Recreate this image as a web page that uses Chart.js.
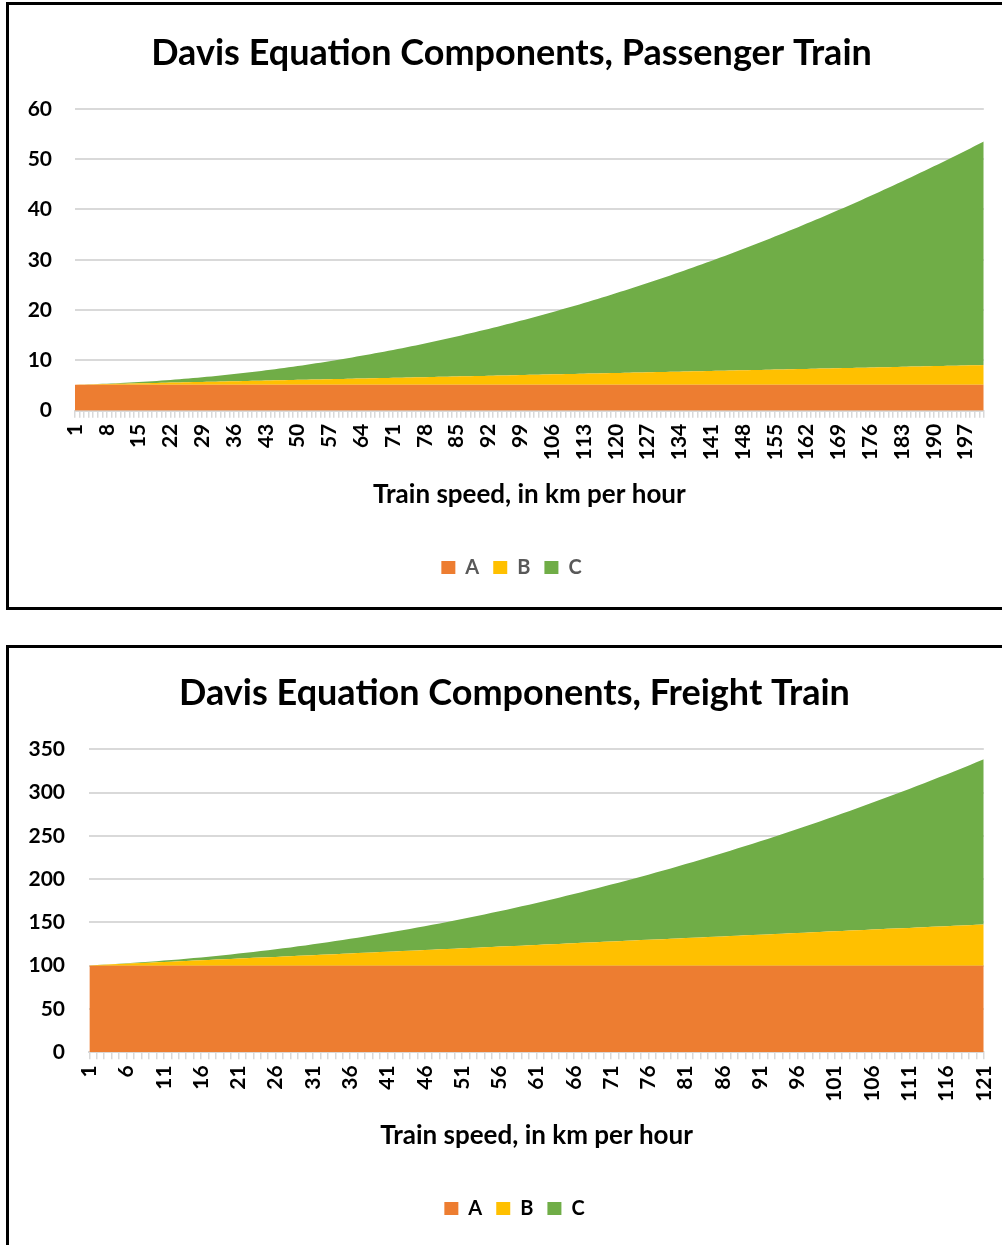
<!DOCTYPE html>
<html>
<head>
<meta charset="utf-8">
<title>Davis Equation Components</title>
<script src="https://cdn.jsdelivr.net/npm/chart.js@4.4.1/dist/chart.umd.min.js"></script>
<style>
  html, body { margin: 0; padding: 0; background: #fff; overflow: hidden; width: 1002px; height: 1245px; }
  canvas { position: absolute; left: 0; }
  .frame { position: absolute; border: 3px solid #000; box-sizing: border-box; pointer-events: none; }
</style>
</head>
<body>
<canvas id="passengerChart" width="1015" height="602" style="top:5px"></canvas>
<canvas id="freightChart" width="1015" height="596" style="top:649px"></canvas>
<div class="frame" style="left:6px; top:2px; width:1030px; height:608px"></div>
<div class="frame" style="left:6px; top:645px; width:1030px; height:620px"></div>
<script>
// ---------- Passenger train: speed (km/h) and the three Davis terms ----------
const passengerSpeeds = [
  1,2,3,4,5,6,7,8,9,10,11,12,13,14,15,16,17,18,19,20,
  21,22,23,24,25,26,27,28,29,30,31,32,33,34,35,36,37,38,39,40,
  41,42,43,44,45,46,47,48,49,50,51,52,53,54,55,56,57,58,59,60,
  61,62,63,64,65,66,67,68,69,70,71,72,73,74,75,76,77,78,79,80,
  81,82,83,84,85,86,87,88,89,90,91,92,93,94,95,96,97,98,99,100,
  101,102,103,104,105,106,107,108,109,110,111,112,113,114,115,116,117,118,119,120,
  121,122,123,124,125,126,127,128,129,130,131,132,133,134,135,136,137,138,139,140,
  141,142,143,144,145,146,147,148,149,150,151,152,153,154,155,156,157,158,159,160,
  161,162,163,164,165,166,167,168,169,170,171,172,173,174,175,176,177,178,179,180,
  181,182,183,184,185,186,187,188,189,190,191,192,193,194,195,196,197,198,199,200,
  201
];
const passengerTickLabels = [1,8,15,22,29,36,43,50,57,64,71,78,85,92,99,106,113,120,127,134,141,148,155,162,169,176,183,190,197];
const passengerA = [
  5.15,5.15,5.15,5.15,5.15,5.15,5.15,5.15,5.15,5.15,5.15,5.15,5.15,5.15,5.15,5.15,5.15,5.15,5.15,5.15,
  5.15,5.15,5.15,5.15,5.15,5.15,5.15,5.15,5.15,5.15,5.15,5.15,5.15,5.15,5.15,5.15,5.15,5.15,5.15,5.15,
  5.15,5.15,5.15,5.15,5.15,5.15,5.15,5.15,5.15,5.15,5.15,5.15,5.15,5.15,5.15,5.15,5.15,5.15,5.15,5.15,
  5.15,5.15,5.15,5.15,5.15,5.15,5.15,5.15,5.15,5.15,5.15,5.15,5.15,5.15,5.15,5.15,5.15,5.15,5.15,5.15,
  5.15,5.15,5.15,5.15,5.15,5.15,5.15,5.15,5.15,5.15,5.15,5.15,5.15,5.15,5.15,5.15,5.15,5.15,5.15,5.15,
  5.15,5.15,5.15,5.15,5.15,5.15,5.15,5.15,5.15,5.15,5.15,5.15,5.15,5.15,5.15,5.15,5.15,5.15,5.15,5.15,
  5.15,5.15,5.15,5.15,5.15,5.15,5.15,5.15,5.15,5.15,5.15,5.15,5.15,5.15,5.15,5.15,5.15,5.15,5.15,5.15,
  5.15,5.15,5.15,5.15,5.15,5.15,5.15,5.15,5.15,5.15,5.15,5.15,5.15,5.15,5.15,5.15,5.15,5.15,5.15,5.15,
  5.15,5.15,5.15,5.15,5.15,5.15,5.15,5.15,5.15,5.15,5.15,5.15,5.15,5.15,5.15,5.15,5.15,5.15,5.15,5.15,
  5.15,5.15,5.15,5.15,5.15,5.15,5.15,5.15,5.15,5.15,5.15,5.15,5.15,5.15,5.15,5.15,5.15,5.15,5.15,5.15,
  5.15
];
const passengerB = [
  0.02,0.04,0.06,0.08,0.10,0.12,0.14,0.16,0.18,0.20,0.21,0.23,0.25,0.27,0.29,0.31,0.33,0.35,0.37,0.39,
  0.41,0.43,0.45,0.47,0.49,0.51,0.53,0.55,0.57,0.59,0.60,0.62,0.64,0.66,0.68,0.70,0.72,0.74,0.76,0.78,
  0.80,0.82,0.84,0.86,0.88,0.90,0.92,0.94,0.96,0.98,0.99,1.01,1.03,1.05,1.07,1.09,1.11,1.13,1.15,1.17,
  1.19,1.21,1.23,1.25,1.27,1.29,1.31,1.33,1.35,1.37,1.38,1.40,1.42,1.44,1.46,1.48,1.50,1.52,1.54,1.56,
  1.58,1.60,1.62,1.64,1.66,1.68,1.70,1.72,1.74,1.76,1.77,1.79,1.81,1.83,1.85,1.87,1.89,1.91,1.93,1.95,
  1.97,1.99,2.01,2.03,2.05,2.07,2.09,2.11,2.13,2.15,2.16,2.18,2.20,2.22,2.24,2.26,2.28,2.30,2.32,2.34,
  2.36,2.38,2.40,2.42,2.44,2.46,2.48,2.50,2.52,2.54,2.55,2.57,2.59,2.61,2.63,2.65,2.67,2.69,2.71,2.73,
  2.75,2.77,2.79,2.81,2.83,2.85,2.87,2.89,2.91,2.93,2.94,2.96,2.98,3.00,3.02,3.04,3.06,3.08,3.10,3.12,
  3.14,3.16,3.18,3.20,3.22,3.24,3.26,3.28,3.30,3.32,3.33,3.35,3.37,3.39,3.41,3.43,3.45,3.47,3.49,3.51,
  3.53,3.55,3.57,3.59,3.61,3.63,3.65,3.67,3.69,3.71,3.72,3.74,3.76,3.78,3.80,3.82,3.84,3.86,3.88,3.90,
  3.92
];
const passengerC = [
  0.00,0.00,0.01,0.02,0.03,0.04,0.05,0.07,0.09,0.11,0.13,0.16,0.19,0.22,0.25,0.28,0.32,0.36,0.40,0.44,
  0.49,0.53,0.58,0.63,0.69,0.74,0.80,0.86,0.93,0.99,1.06,1.13,1.20,1.27,1.35,1.43,1.51,1.59,1.67,1.76,
  1.85,1.94,2.03,2.13,2.23,2.33,2.43,2.53,2.64,2.75,2.86,2.97,3.09,3.21,3.33,3.45,3.57,3.70,3.83,3.96,
  4.09,4.23,4.37,4.51,4.65,4.79,4.94,5.09,5.24,5.39,5.55,5.70,5.86,6.02,6.19,6.35,6.52,6.69,6.87,7.04,
  7.22,7.40,7.58,7.76,7.95,8.14,8.33,8.52,8.71,8.91,9.11,9.31,9.51,9.72,9.93,10.14,10.35,10.56,10.78,11.00,
  11.22,11.44,11.67,11.90,12.13,12.36,12.59,12.83,13.07,13.31,13.55,13.80,14.05,14.30,14.55,14.80,15.06,15.32,15.58,15.84,
  16.11,16.37,16.64,16.91,17.19,17.46,17.74,18.02,18.31,18.59,18.88,19.17,19.46,19.75,20.05,20.35,20.65,20.95,21.25,21.56,
  21.87,22.18,22.49,22.81,23.13,23.45,23.77,24.09,24.42,24.75,25.08,25.41,25.75,26.09,26.43,26.77,27.11,27.46,27.81,28.16,
  28.51,28.87,29.23,29.59,29.95,30.31,30.68,31.05,31.42,31.79,32.17,32.54,32.92,33.30,33.69,34.07,34.46,34.85,35.25,35.64,
  36.04,36.44,36.84,37.24,37.65,38.06,38.47,38.88,39.29,39.71,40.13,40.55,40.97,41.40,41.83,42.26,42.69,43.12,43.56,44.00,
  44.44
];
const passengerYTicks = [0, 10, 20, 30, 40, 50, 60];

// ---------- Freight train: speed (km/h) and the three Davis terms ----------
const freightSpeeds = [
  1,2,3,4,5,6,7,8,9,10,11,12,13,14,15,16,17,18,19,20,
  21,22,23,24,25,26,27,28,29,30,31,32,33,34,35,36,37,38,39,40,
  41,42,43,44,45,46,47,48,49,50,51,52,53,54,55,56,57,58,59,60,
  61,62,63,64,65,66,67,68,69,70,71,72,73,74,75,76,77,78,79,80,
  81,82,83,84,85,86,87,88,89,90,91,92,93,94,95,96,97,98,99,100,
  101,102,103,104,105,106,107,108,109,110,111,112,113,114,115,116,117,118,119,120,
  121
];
const freightTickLabels = [1,6,11,16,21,26,31,36,41,46,51,56,61,66,71,76,81,86,91,96,101,106,111,116,121];
const freightA = [
  100,100,100,100,100,100,100,100,100,100,100,100,100,100,100,100,100,100,100,100,
  100,100,100,100,100,100,100,100,100,100,100,100,100,100,100,100,100,100,100,100,
  100,100,100,100,100,100,100,100,100,100,100,100,100,100,100,100,100,100,100,100,
  100,100,100,100,100,100,100,100,100,100,100,100,100,100,100,100,100,100,100,100,
  100,100,100,100,100,100,100,100,100,100,100,100,100,100,100,100,100,100,100,100,
  100,100,100,100,100,100,100,100,100,100,100,100,100,100,100,100,100,100,100,100,
  100
];
const freightB = [
  0.4,0.8,1.2,1.6,2.0,2.4,2.8,3.2,3.5,3.9,4.3,4.7,5.1,5.5,5.9,6.3,6.7,7.1,7.5,7.9,
  8.3,8.7,9.1,9.5,9.9,10.2,10.6,11.0,11.4,11.8,12.2,12.6,13.0,13.4,13.8,14.2,14.6,15.0,15.4,15.8,
  16.2,16.5,16.9,17.3,17.7,18.1,18.5,18.9,19.3,19.7,20.1,20.5,20.9,21.3,21.7,22.1,22.5,22.9,23.2,23.6,
  24.0,24.4,24.8,25.2,25.6,26.0,26.4,26.8,27.2,27.6,28.0,28.4,28.8,29.2,29.6,29.9,30.3,30.7,31.1,31.5,
  31.9,32.3,32.7,33.1,33.5,33.9,34.3,34.7,35.1,35.5,35.9,36.2,36.6,37.0,37.4,37.8,38.2,38.6,39.0,39.4,
  39.8,40.2,40.6,41.0,41.4,41.8,42.2,42.6,42.9,43.3,43.7,44.1,44.5,44.9,45.3,45.7,46.1,46.5,46.9,47.3,
  47.7
];
const freightC = [
  0.0,0.1,0.1,0.2,0.3,0.5,0.6,0.8,1.1,1.3,1.6,1.9,2.2,2.6,2.9,3.3,3.8,4.2,4.7,5.2,
  5.7,6.3,6.9,7.5,8.1,8.8,9.5,10.2,11.0,11.7,12.5,13.3,14.2,15.1,16.0,16.9,17.8,18.8,19.8,20.8,
  21.9,23.0,24.1,25.2,26.4,27.6,28.8,30.0,31.3,32.6,33.9,35.2,36.6,38.0,39.4,40.9,42.3,43.8,45.4,46.9,
  48.5,50.1,51.7,53.4,55.1,56.8,58.5,60.3,62.0,63.8,65.7,67.5,69.4,71.4,73.3,75.3,77.3,79.3,81.3,83.4,
  85.5,87.6,89.8,91.9,94.1,96.4,98.6,100.9,103.2,105.5,107.9,110.3,112.7,115.1,117.6,120.1,122.6,125.1,127.7,130.3,
  132.9,135.6,138.2,140.9,143.7,146.4,149.2,152.0,154.8,157.7,160.5,163.4,166.4,169.3,172.3,175.3,178.4,181.4,184.5,187.6,
  190.8
];
const freightYTicks = [0, 50, 100, 150, 200, 250, 300, 350];

// ---------- shared styling ----------
const seriesNames = ['A', 'B', 'C'];
const seriesColors = ['#ED7D31', '#FFC000', '#70AD47'];
Chart.defaults.font.family = "Lato, 'Open Sans', sans-serif";
Chart.defaults.font.weight = 'bold';

function areaDatasets(seriesValues) {
  return seriesValues.map((values, i) => ({
    label: seriesNames[i],
    data: values,
    backgroundColor: seriesColors[i],
    borderColor: 'rgba(0,0,0,0)',
    borderWidth: 0,
    pointRadius: 0,
    pointHoverRadius: 0,
    tension: 0,
    fill: i === 0 ? 'origin' : '-1'
  }));
}

function buildChart(id, s) {
  const yStep = s.yTicks[1] - s.yTicks[0];
  return new Chart(document.getElementById(id), {
    type: 'line',
    data: { labels: s.speeds, datasets: areaDatasets(s.series) },
    options: {
      responsive: false,
      animation: false,
      devicePixelRatio: 1,
      events: [],
      layout: { padding: s.pad },
      plugins: {
        title: {
          display: true,
          text: s.title,
          color: '#000',
          font: { size: 36, weight: 'bold' },
          padding: s.titlePad
        },
        legend: {
          position: 'bottom',
          labels: {
            boxWidth: 14,
            boxHeight: 13,
            padding: 14,
            color: s.legendColor,
            font: { size: 20, weight: 'bold' }
          }
        },
        tooltip: { enabled: false }
      },
      scales: {
        x: {
          ticks: {
            autoSkip: false,
            minRotation: 90,
            maxRotation: 90,
            padding: 6,
            color: '#000',
            font: { size: 21, weight: 'bold' },
            callback: function (value) {
              const speed = this.getLabelForValue(value);
              return s.tickLabels.includes(speed) ? String(speed) : '';
            }
          },
          grid: {
            drawOnChartArea: false,
            drawTicks: true,
            tickLength: 7,
            color: '#D9D9D9',
            lineWidth: 1.5
          },
          border: { display: true, color: '#D9D9D9', width: 2 },
          title: {
            display: true,
            text: 'Train speed, in km per hour',
            color: '#000',
            font: { size: 26, weight: 'bold' },
            padding: { top: 4, bottom: s.xTitleBottom }
          },
          afterFit: (scale) => { scale.height = s.xHeight; }
        },
        y: {
          stacked: true,
          min: s.yTicks[0],
          max: s.yTicks[s.yTicks.length - 1],
          ticks: {
            stepSize: yStep,
            padding: s.yPad,
            color: '#000',
            font: { size: 21, weight: 'bold' }
          },
          grid: { color: '#D9D9D9', lineWidth: 2, drawTicks: false },
          border: { display: false },
          afterFit: (scale) => { scale.width = s.yWidth; }
        }
      }
    }
  });
}

buildChart('passengerChart', {
  title: 'Davis Equation Components, Passenger Train',
  speeds: passengerSpeeds,
  tickLabels: passengerTickLabels,
  series: [passengerA, passengerB, passengerC],
  yTicks: passengerYTicks,
  legendColor: '#595959',
  pad: { left: 8, right: 0, top: 0, bottom: 19.5 },
  titlePad: { top: 26.9, bottom: 33.7 },
  xHeight: 132.8,
  xTitleBottom: 32.9,
  yWidth: 67,
  yPad: 23
});

buildChart('freightChart', {
  title: 'Davis Equation Components, Freight Train',
  speeds: freightSpeeds,
  tickLabels: freightTickLabels,
  series: [freightA, freightB, freightC],
  yTicks: freightYTicks,
  legendColor: '#000',
  pad: { left: 14, right: 0, top: 0, bottom: 16.5 },
  titlePad: { top: 22.9, bottom: 34.2 },
  xHeight: 132.2,
  xTitleBottom: 32.9,
  yWidth: 75.3,
  yPad: 24.3
});
</script>
</body>
</html>
